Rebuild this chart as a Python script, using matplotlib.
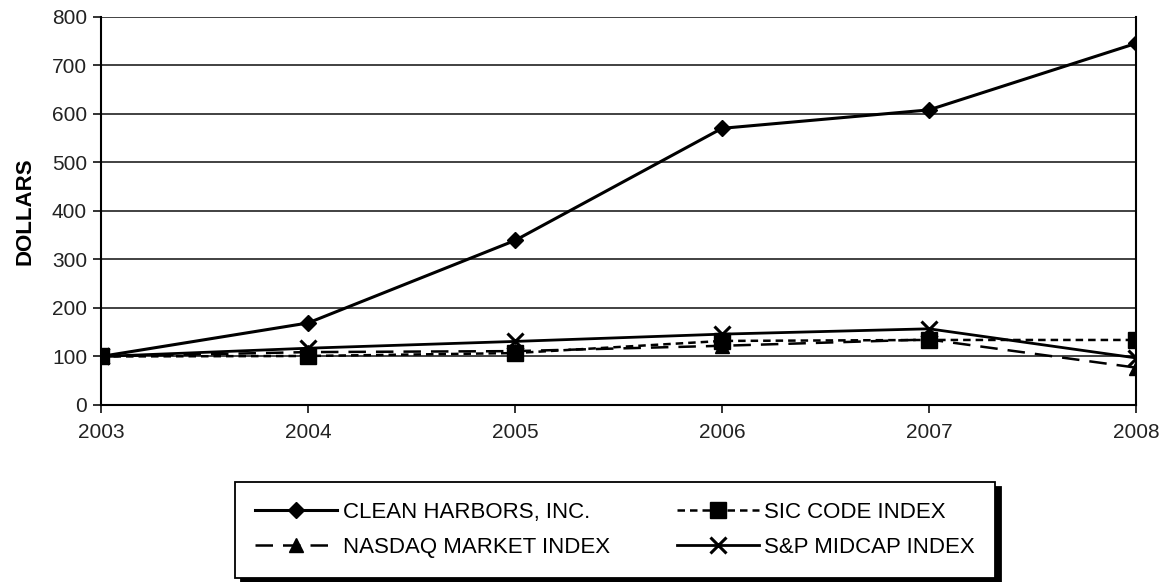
import matplotlib.pyplot as plt

plt.rcParams['font.family'] = ['Liberation Sans', 'DejaVu Sans']

years = [2003, 2004, 2005, 2006, 2007, 2008]
clean_harbors = [100, 169, 339, 570, 608, 745]
sic_index = [100, 101, 107, 132, 134, 134]
nasdaq_index = [100, 109, 111, 122, 135, 77]
sp_midcap = [100, 117, 131, 146, 157, 97]

labels = ['CLEAN HARBORS, INC.', 'SIC CODE INDEX', 'NASDAQ MARKET INDEX', 'S&P MIDCAP INDEX']

fig = plt.figure(figsize=(11.68, 5.82), dpi=100)
ax = fig.add_axes([101/1168, 1 - 405/582, (1136 - 101)/1168, (405 - 16.7)/582])

# horizontal grid lines
for v in range(100, 900, 100):
    ax.axhline(v, color='#333333', lw=1.3, zorder=1)

l1, = ax.plot(years, clean_harbors, color='black', lw=2.2, marker='D', ms=8, zorder=3)
l2, = ax.plot(years, sic_index, color='black', lw=1.8, ls=(0, (3, 2)), marker='s', ms=11, zorder=3)
l3, = ax.plot(years, nasdaq_index, color='black', lw=1.8, ls=(0, (7, 4)), marker='^', ms=10, zorder=3)
l4, = ax.plot(years, sp_midcap, color='black', lw=2, marker='x', ms=11, mew=2.2, zorder=3)

ax.set_xlim(2003, 2008)
ax.set_ylim(0, 800)
ax.set_xticks(years)
ax.set_yticks(range(0, 900, 100))
ax.tick_params(labelsize=15, length=6, width=1.3, direction='out', colors='#222222')
ax.tick_params(axis='y', pad=4)
ax.tick_params(axis='x', pad=7)
for s in ['left', 'bottom', 'right']:
    ax.spines[s].set_linewidth(1.5)
ax.spines['top'].set_visible(False)
ax.set_ylabel('DOLLARS', fontsize=16, fontweight='bold', labelpad=12)

# legend: row 1 = clean harbors, sic; row 2 = nasdaq, s&p
leg = fig.legend([l1, l3, l2, l4], [labels[0], labels[2], labels[1], labels[3]],
                 ncol=2, loc='center', bbox_to_anchor=(615/1168, 1 - 530/582),
                 frameon=True, fancybox=False,
                 shadow={'ox': 4, 'oy': -4, 'color': 'black', 'alpha': 1},
                 edgecolor='black', fontsize=16, handlelength=3.7, columnspacing=3.0,
                 borderpad=0.9, labelspacing=0.65, handletextpad=0.25)
leg.get_frame().set_linewidth(1.3)

fig.savefig('out.png', dpi=100)
